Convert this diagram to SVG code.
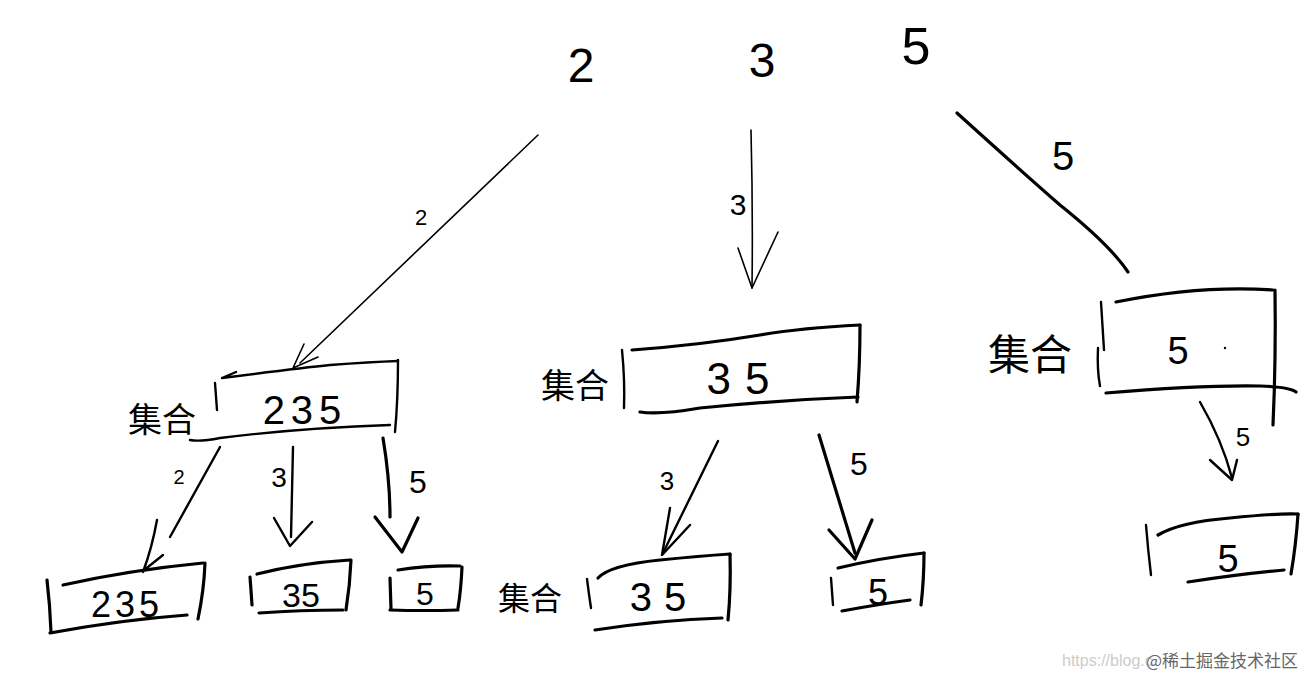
<svg xmlns="http://www.w3.org/2000/svg" width="1314" height="677" viewBox="0 0 1314 677">
<style>
.s{fill:none;stroke:#000;stroke-linecap:round;stroke-linejoin:round}
.t1{stroke-width:1.6}
.t2{stroke-width:2.4}
.t3{stroke-width:3.2}
.n{font-family:"Liberation Sans","DejaVu Sans",sans-serif;fill:#000;text-anchor:middle}
.c{font-family:"Noto Sans CJK SC",sans-serif;fill:#000;text-anchor:middle}
</style>
<rect width="1314" height="677" fill="#fff"/>

<g id="top-values">
<text class="n" x="581" y="82" font-size="48">2</text>
<text class="n" x="762" y="77" font-size="48">3</text>
<text class="n" x="916" y="64" font-size="52">5</text>
</g>

<g id="connectors">
<!-- 2 to set A -->
<path class="s t1" d="M538,135 L300,363"/>
<path class="s t1" d="M304,344 L293,368 L318,357"/>
<text class="n" x="421" y="225" font-size="22">2</text>
<!-- 3 to set B -->
<path class="s t1" d="M751,130 Q753,210 752,288"/>
<path class="s t1" d="M738,248 L752,288 L778,232"/>
<text class="n" x="738" y="215" font-size="30">3</text>
<!-- 5 to set C -->
<path class="s t3" d="M957,113 Q1020,170 1060,205 Q1110,245 1128,272"/>
<text class="n" x="1063" y="170" font-size="40">5</text>

<!-- set A children -->
<path class="s t2" d="M220,447 L170,537"/>
<path class="s t2" d="M157,520 Q152,548 143,572 M163,555 L143,571"/>
<text class="n" x="179" y="484" font-size="20">2</text>
<path class="s t2" d="M293,447 L291,537"/>
<path class="s t2" d="M274,518 L290,546 L312,522"/>
<text class="n" x="279" y="487" font-size="28">3</text>
<path class="s t3" d="M383,438 Q390,480 390,517"/>
<path class="s t3" d="M375,517 L402,552 L418,518"/>
<text class="n" x="418" y="493" font-size="32">5</text>

<!-- set B children -->
<path class="s t2" d="M718,441 L663,553"/>
<path class="s t2" d="M670,508 L662,555 L690,525"/>
<text class="n" x="667" y="490" font-size="26">3</text>
<path class="s t3" d="M819,435 L855,553"/>
<path class="s t3" d="M829,530 L855,559 L872,520"/>
<text class="n" x="859" y="475" font-size="32">5</text>

<!-- set C child -->
<path class="s t2" d="M1200,402 Q1222,440 1232,478"/>
<path class="s t2" d="M1210,460 L1232,480 L1237,460"/>
<text class="n" x="1243" y="446" font-size="26">5</text>
</g>

<g id="setA">
<text class="c" x="162" y="432" font-size="34">集合</text>
<path class="s t2" d="M215,383 L217,410"/>
<path class="s t2" d="M222,378 Q300,368 330,365 Q370,362 398,361 M222,378 L236,372"/>
<path class="s t2" d="M398,360 Q398,400 395,432"/>
<path class="s t2" d="M190,440 Q200,442 220,438 Q300,428 390,425"/>
<text class="n" x="305" y="424" font-size="40" letter-spacing="6">235</text>
</g>

<g id="setB">
<text class="c" x="575" y="398" font-size="34">集合</text>
<path class="s t2" d="M622,350 Q625,380 624,408"/>
<path class="s t3" d="M632,350 Q700,345 760,335 Q800,328 860,325"/>
<path class="s t3" d="M860,325 Q860,365 857,402"/>
<path class="s t3" d="M640,412 Q660,415 700,408 Q780,400 858,397"/>
<text class="n" x="745" y="394" font-size="44" letter-spacing="14">35</text>
</g>

<g id="setC">
<text class="c" x="1030" y="370" font-size="42">集合</text>
<path class="s t2" d="M1101,302 L1104,350 M1098,348 Q1097,370 1100,386"/>
<path class="s t3" d="M1116,302 Q1200,285 1273,290"/>
<path class="s t3" d="M1275,290 Q1276,360 1273,425"/>
<path class="s t3" d="M1106,393 Q1200,385 1260,386 Q1290,387 1296,392"/>
<text class="n" x="1178" y="364" font-size="38">5</text>
<circle cx="1225" cy="348" r="1.2" fill="#000"/>
</g>

<g id="setC2">
<path class="s t2" d="M1146,525 Q1148,550 1151,575"/>
<path class="s t3" d="M1158,535 Q1180,522 1230,518 Q1280,513 1298,514"/>
<path class="s t3" d="M1298,514 Q1296,545 1291,574"/>
<path class="s t3" d="M1188,582 Q1240,574 1284,570"/>
<text class="n" x="1228" y="572" font-size="38">5</text>
</g>

<g id="leaf235">
<path class="s t3" d="M47,580 Q50,605 51,632"/>
<path class="s t3" d="M63,585 Q130,570 203,563"/>
<path class="s t3" d="M205,563 Q204,590 198,619"/>
<path class="s t3" d="M50,633 Q120,620 187,615"/>
<text class="n" x="127" y="617" font-size="36" letter-spacing="4">235</text>
</g>

<g id="leaf35a">
<path class="s t3" d="M250,577 Q251,590 252,605"/>
<path class="s t3" d="M257,574 Q300,563 350,560"/>
<path class="s t3" d="M351,560 Q350,585 346,610"/>
<path class="s t3" d="M259,613 Q300,610 343,610"/>
<text class="n" x="301" y="607" font-size="34">35</text>
</g>

<g id="leaf5a">
<path class="s t3" d="M398,570 Q430,565 460,566"/>
<path class="s t3" d="M390,578 L391,609"/>
<path class="s t3" d="M462,567 Q461,590 458,608"/>
<path class="s t3" d="M390,610 Q425,611 458,610"/>
<text class="n" x="425" y="605" font-size="32">5</text>
</g>

<g id="setD">
<text class="c" x="530" y="610" font-size="32">集合</text>
<path class="s t2" d="M587,579 Q589,595 591,608"/>
<path class="s t3" d="M598,578 Q610,565 660,560 Q700,556 730,554"/>
<path class="s t3" d="M730,554 Q731,590 728,620"/>
<path class="s t3" d="M595,630 Q660,620 722,618"/>
<text class="n" x="664" y="611" font-size="40" letter-spacing="12">35</text>
</g>

<g id="leaf5b">
<path class="s t2" d="M831,578 L833,605"/>
<path class="s t3" d="M838,568 Q880,558 924,553"/>
<path class="s t3" d="M924,553 Q924,580 921,605"/>
<path class="s t3" d="M842,611 Q880,604 910,600"/>
<text class="n" x="878" y="605" font-size="36">5</text>
</g>

<g id="watermark">
<text x="1062" y="666" font-family="Liberation Sans,sans-serif" font-size="16" fill="#ccc">https://blog.c</text>
<text x="1146" y="667" font-family="Noto Sans CJK SC,sans-serif" font-size="17" fill="#666">@稀土掘金技术社区</text>
</g>
</svg>
